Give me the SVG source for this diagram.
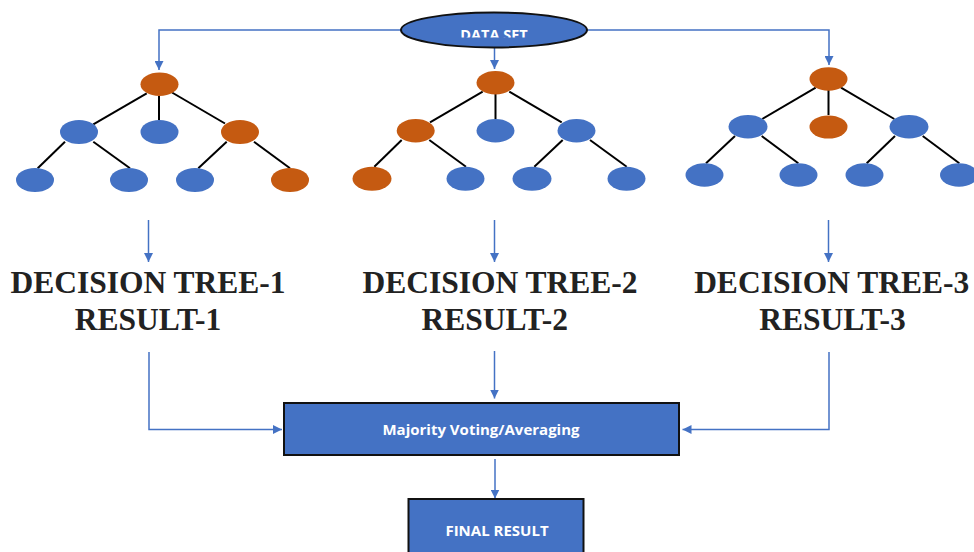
<svg xmlns="http://www.w3.org/2000/svg" width="974" height="552" viewBox="0 0 974 552">
<style>
.b{fill:#4472C4}
.o{fill:#C55A11}
.edge{stroke:#000;stroke-width:2;fill:none}
.flow{stroke:#4472C4;stroke-width:1.5;fill:none}
.lbl{font-family:"Liberation Serif","Times New Roman",serif;font-weight:bold;font-size:31.5px;fill:#222;text-anchor:middle}
.wt{font-family:"Open Sans","DejaVu Sans",sans-serif;font-weight:bold;fill:#fff;text-anchor:middle}
</style>
<defs>
<marker id="ah" viewBox="0 0 10 10" refX="10" refY="5" markerWidth="9" markerHeight="9" markerUnits="userSpaceOnUse" orient="auto">
<path d="M0,0 L10,5 L0,10 z" fill="#4472C4"/>
</marker>
<clipPath id="dsclip"><rect x="400" y="10" width="190" height="27.5"/></clipPath>
</defs>
<rect width="974" height="552" fill="#fff"/>

<g id="connectors">
<path class="flow" d="M401,30 H159 V70" marker-end="url(#ah)"/>
<path class="flow" d="M494.5,48 V69" marker-end="url(#ah)"/>
<path class="flow" d="M587,30 H829 V65" marker-end="url(#ah)"/>
<!-- tree 1 edges -->
<line class="edge" x1="146.7" y1="93.3" x2="93.3" y2="124.3"/>
<line class="edge" x1="159" y1="96" x2="159" y2="120"/>
<line class="edge" x1="172" y1="92.5" x2="225" y2="123.5"/>
<line class="edge" x1="65" y1="141.7" x2="37.7" y2="168.3"/>
<line class="edge" x1="93.3" y1="141.7" x2="130" y2="168.3"/>
<line class="edge" x1="226.7" y1="141.7" x2="198.3" y2="168.3"/>
<line class="edge" x1="254" y1="141.7" x2="290" y2="168.3"/>
<!-- tree 2 edges -->
<line class="edge" x1="482.7" y1="91.7" x2="430" y2="122.3"/>
<line class="edge" x1="495.5" y1="94" x2="495.5" y2="119"/>
<line class="edge" x1="509.3" y1="91.7" x2="561.7" y2="122.3"/>
<line class="edge" x1="401.7" y1="140" x2="374.3" y2="166.7"/>
<line class="edge" x1="429.3" y1="140" x2="466" y2="166.7"/>
<line class="edge" x1="562.7" y1="140" x2="534.3" y2="166.7"/>
<line class="edge" x1="590" y1="140" x2="626.7" y2="166.7"/>
<!-- tree 3 edges -->
<line class="edge" x1="815.7" y1="87.7" x2="762.3" y2="119"/>
<line class="edge" x1="828.5" y1="90" x2="828.5" y2="115"/>
<line class="edge" x1="841" y1="87.7" x2="894.3" y2="119"/>
<line class="edge" x1="735" y1="136" x2="706" y2="163.3"/>
<line class="edge" x1="761.7" y1="136" x2="798.3" y2="163.3"/>
<line class="edge" x1="895" y1="136" x2="866.7" y2="163.3"/>
<line class="edge" x1="922.7" y1="136" x2="959.3" y2="163.3"/>
<!-- tree to label arrows -->
<path class="flow" d="M148.5,220 V262" marker-end="url(#ah)"/>
<path class="flow" d="M494.5,220 V262" marker-end="url(#ah)"/>
<path class="flow" d="M828.5,220 V262" marker-end="url(#ah)"/>
<!-- results to voting -->
<path class="flow" d="M149,352 V429.5 H282" marker-end="url(#ah)"/>
<path class="flow" d="M494.5,351 V398.5" marker-end="url(#ah)"/>
<path class="flow" d="M829,352 V429.5 H682.5" marker-end="url(#ah)"/>
<path class="flow" d="M495,459 V498.5" marker-end="url(#ah)"/>
</g>

<g id="dataset">
<ellipse cx="494" cy="30" rx="93" ry="17.5" fill="#4472C4" stroke="#111" stroke-width="2"/>
<text class="wt" x="494" y="40" font-size="14.5" clip-path="url(#dsclip)">DATA SET</text>
</g>

<g id="tree1-root"><ellipse class="o" cx="159.5" cy="84.3" rx="19" ry="11.7"/></g>
<g id="tree1-l"><ellipse class="b" cx="79" cy="132" rx="19" ry="12"/></g>
<g id="tree1-m"><ellipse class="b" cx="159.5" cy="132" rx="19" ry="12"/></g>
<g id="tree1-r"><ellipse class="o" cx="240" cy="132" rx="19" ry="12"/></g>
<g id="tree1-ll"><ellipse class="b" cx="35" cy="180" rx="19" ry="12"/></g>
<g id="tree1-lr"><ellipse class="b" cx="129" cy="180" rx="19" ry="12"/></g>
<g id="tree1-rl"><ellipse class="b" cx="195" cy="180" rx="19" ry="12"/></g>
<g id="tree1-rr"><ellipse class="o" cx="290" cy="180" rx="19" ry="12"/></g>

<g id="tree2-root"><ellipse class="o" cx="495.5" cy="82.7" rx="19" ry="11.7"/></g>
<g id="tree2-l"><ellipse class="o" cx="415.7" cy="130.7" rx="19" ry="11.7"/></g>
<g id="tree2-m"><ellipse class="b" cx="495.5" cy="130.7" rx="19" ry="11.7"/></g>
<g id="tree2-r"><ellipse class="b" cx="576.5" cy="130.7" rx="19" ry="11.7"/></g>
<g id="tree2-ll"><ellipse class="o" cx="372" cy="178.7" rx="19.5" ry="12"/></g>
<g id="tree2-lr"><ellipse class="b" cx="465.5" cy="178.7" rx="19" ry="12"/></g>
<g id="tree2-rl"><ellipse class="b" cx="532" cy="178.7" rx="19.5" ry="12"/></g>
<g id="tree2-rr"><ellipse class="b" cx="626.5" cy="178.7" rx="19" ry="12"/></g>

<g id="tree3-root"><ellipse class="o" cx="828.5" cy="79" rx="19" ry="11.7"/></g>
<g id="tree3-l"><ellipse class="b" cx="748" cy="126.7" rx="19.5" ry="11.7"/></g>
<g id="tree3-m"><ellipse class="o" cx="828.5" cy="127" rx="19" ry="11.5"/></g>
<g id="tree3-r"><ellipse class="b" cx="909" cy="126.7" rx="19.5" ry="11.7"/></g>
<g id="tree3-ll"><ellipse class="b" cx="704.5" cy="175" rx="19" ry="11.7"/></g>
<g id="tree3-lr"><ellipse class="b" cx="798.5" cy="175" rx="19" ry="11.7"/></g>
<g id="tree3-rl"><ellipse class="b" cx="864.5" cy="175" rx="19" ry="11.7"/></g>
<g id="tree3-rr"><ellipse class="b" cx="959" cy="175" rx="19" ry="11.7"/></g>

<g id="label1">
<text class="lbl" x="148" y="292.7">DECISION TREE-1</text>
<text class="lbl" x="148" y="329.5">RESULT-1</text>
</g>
<g id="label2">
<text class="lbl" x="500" y="292.7">DECISION TREE-2</text>
<text class="lbl" x="494.7" y="329.5">RESULT-2</text>
</g>
<g id="label3">
<text class="lbl" x="831.7" y="292.7">DECISION TREE-3</text>
<text class="lbl" x="832.5" y="329.5">RESULT-3</text>
</g>

<g id="voting">
<rect x="284" y="403" width="395" height="52" fill="#4472C4" stroke="#111" stroke-width="2"/>
<text class="wt" x="481" y="435" font-size="15">Majority Voting/Averaging</text>
</g>
<g id="final">
<rect x="408.5" y="499" width="175" height="60" fill="#4472C4" stroke="#111" stroke-width="2"/>
<text class="wt" x="497" y="535.7" font-size="15">FINAL RESULT</text>
</g>
</svg>
